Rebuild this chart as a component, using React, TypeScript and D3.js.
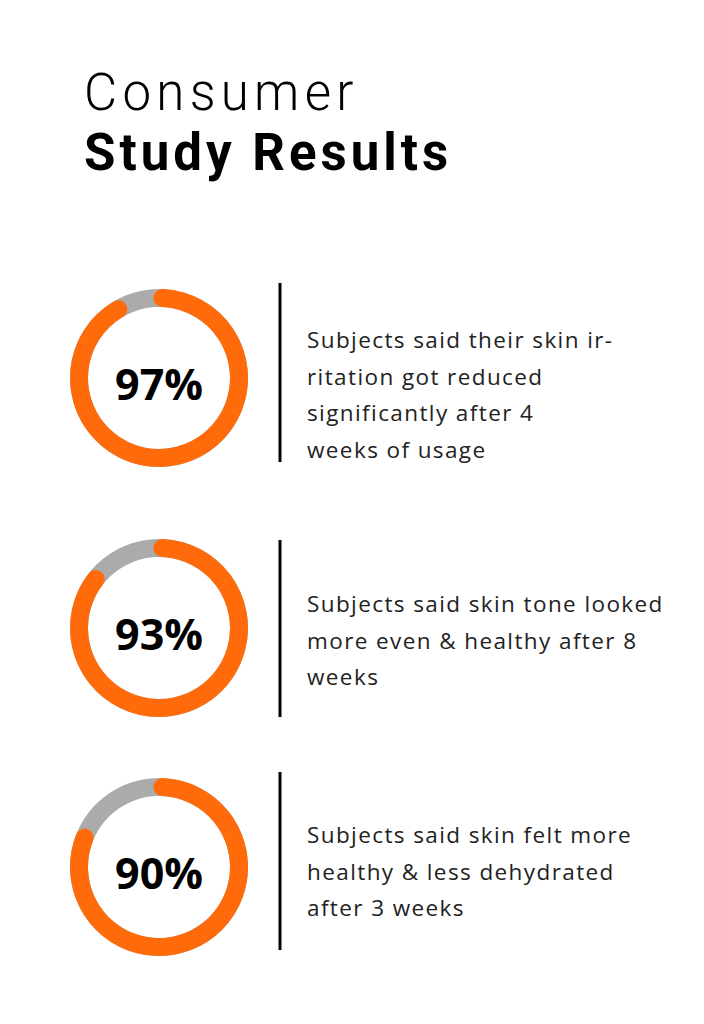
import React from "react";
import * as d3 from "d3";

const titleLines = ["Consumer", "Study Results"];
const values = [97, 93, 90];
const descriptions = [
  ["Subjects said their skin ir-", "ritation got reduced", "significantly after 4", "weeks of usage"],
  ["Subjects said skin tone looked", "more even & healthy after 8", "weeks"],
  ["Subjects said skin felt more", "healthy & less dehydrated", "after 3 weeks"],
];

const W = 704;
const H = 1024;
const ORANGE = "#FF6B0A";
const GRAY = "#ABABAB";
const FONT = "'Open Sans', 'Noto Sans', sans-serif";
const TITLE_FONT = "Roboto, 'Open Sans', sans-serif";

// layout per row
const rows = [
  { cy: 378, lineTop: 283, lineBottom: 462, firstBaseline: 348 },
  { cy: 628, lineTop: 540, lineBottom: 717, firstBaseline: 612 },
  { cy: 867, lineTop: 772, lineBottom: 950, firstBaseline: 843 },
];

export default function App() {
  const cx = 159;
  const rOuter = 89;
  const thick = 18;
  const deg = Math.PI / 180;
  // visible gap (grey) grows with the remaining share
  const gapScale = d3.scaleLinear().domain([100, 90]).range([4 * deg, 58 * deg]);
  const startOffset = -4 * deg;

  const arcGen = d3
    .arc<any>()
    .innerRadius(rOuter - thick)
    .outerRadius(rOuter)
    .cornerRadius(thick / 2);
  const trackGen = d3.arc<any>().innerRadius(rOuter - thick).outerRadius(rOuter);
  const lineH = 36.5;

  return (
    <svg
      width={W}
      height={H}
      style={{ position: "absolute", left: 0, top: 0, background: "#fff" }}
    >
      <rect x={0} y={0} width={W} height={H} fill="#fff" />
      <text
        x={84}
        y={110}
        fontFamily={TITLE_FONT}
        fontWeight={300}
        fontSize={51}
        letterSpacing={5.3}
        fill="#000"
      >
        {titleLines[0]}
      </text>
      <text
        x={84}
        y={170}
        fontFamily={TITLE_FONT}
        fontWeight={700}
        fontSize={51}
        letterSpacing={4}
        fill="#000"
      >
        {titleLines[1]}
      </text>
      {values.map((v, i) => {
        const r = rows[i];
        const gap = gapScale(v);
        const track = trackGen({ startAngle: 0, endAngle: 2 * Math.PI }) as string;
        const fg = arcGen({
          startAngle: startOffset,
          endAngle: startOffset + 2 * Math.PI - gap,
        }) as string;
        return (
          <g key={i}>
            <g transform={`translate(${cx},${r.cy})`}>
              <path d={track} fill={GRAY} />
              <path d={fg} fill={ORANGE} />
              <text
                x={0}
                y={22}
                textAnchor="middle"
                fontFamily={FONT}
                fontWeight={700}
                fontSize={43}
                fill="#000"
              >
                {`${v}%`}
              </text>
            </g>
            <line x1={280} x2={280} y1={r.lineTop} y2={r.lineBottom} stroke="#000" strokeWidth={3} />
            {descriptions[i].map((t, j) => (
              <text
                key={j}
                x={307}
                y={r.firstBaseline + j * lineH}
                fontFamily={FONT}
                fontWeight={400}
                fontSize={22.5}
                letterSpacing={1.4}
                fill="#222"
              >
                {t}
              </text>
            ))}
          </g>
        );
      })}
    </svg>
  );
}
